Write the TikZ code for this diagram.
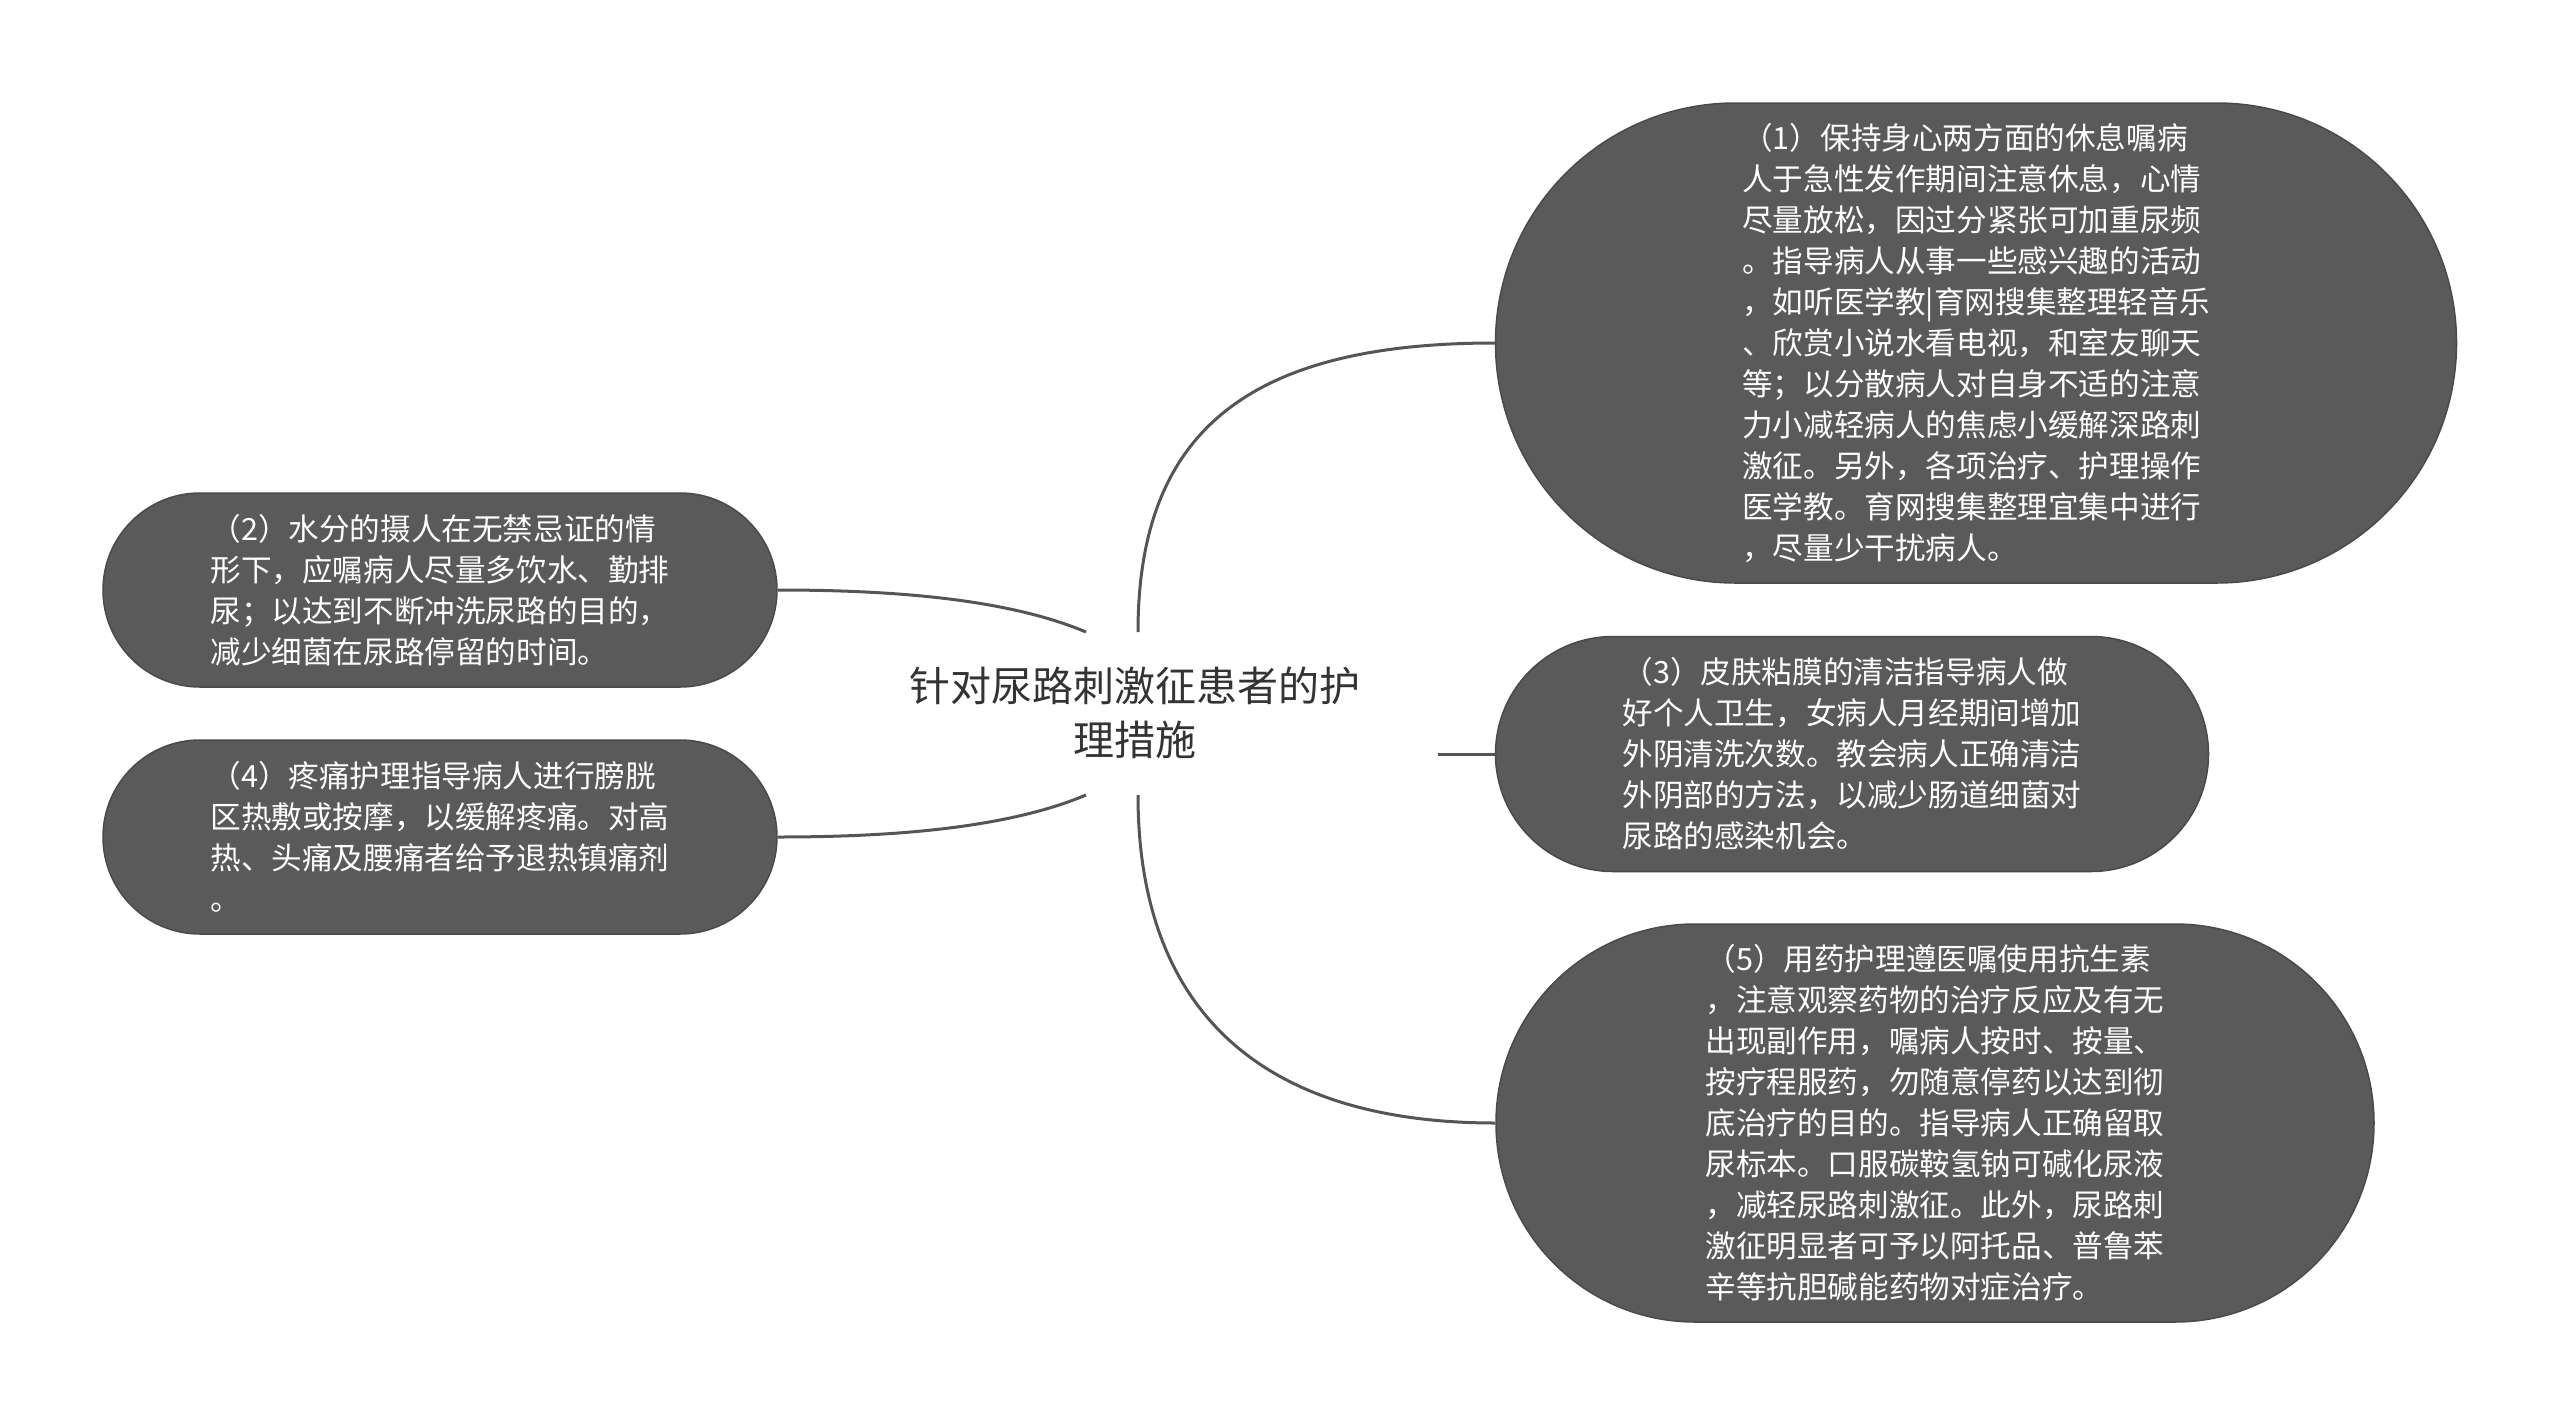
\documentclass[tikz,border=0pt]{standalone}
\usepackage{fontspec}
\setmainfont{Noto Sans CJK SC}
\usetikzlibrary{shapes.misc}
\definecolor{nodefill}{HTML}{5A5A5A}
\definecolor{nodeedge}{HTML}{4A4A4A}
\definecolor{linecol}{HTML}{555555}
\definecolor{titlecol}{HTML}{333333}
\begin{document}
\begin{tikzpicture}[x=1pt,y=-1pt,
  leaf/.style={rounded rectangle, fill=nodefill, draw=nodeedge, line width=1.5pt,
    text=white, inner sep=0pt, align=left,
    font=\fontsize{30.6}{41}\selectfont},
  conn/.style={draw=linecol, line width=3pt}
]
\useasboundingbox (0,0) rectangle (2560,1427);
\fill[white] (0,0) rectangle (2560,1427);

\node[rectangle, minimum width=607pt, minimum height=163pt, inner sep=0pt,
  align=center, text=titlecol, font=\fontsize{41}{54}\selectfont] (root) at (1135,713)
  {针对尿路刺激征患者的护\\理措施};

\node[leaf, minimum width=961pt, minimum height=480pt] (n1) at (1976,343)
{（1）保持身心两方面的休息嘱病\\
人于急性发作期间注意休息，心情\\
尽量放松，因过分紧张可加重尿频\\
。指导病人从事一些感兴趣的活动\\
，如听医学教|育网搜集整理轻音乐\\
、欣赏小说水看电视，和室友聊天\\
等；以分散病人对自身不适的注意\\
力小减轻病人的焦虑小缓解深路刺\\
激征。另外，各项治疗、护理操作\\
医学教。育网搜集整理宜集中进行\\
，尽量少干扰病人。};

\node[leaf, minimum width=674pt, minimum height=194pt] (n2) at (440,590)
{（2）水分的摄人在无禁忌证的情\\
形下，应嘱病人尽量多饮水、勤排\\
尿；以达到不断冲洗尿路的目的，\\
减少细菌在尿路停留的时间。};

\node[leaf, minimum width=674pt, minimum height=194pt] (n4) at (440,837)
{（4）疼痛护理指导病人进行膀胱\\
区热敷或按摩，以缓解疼痛。对高\\
热、头痛及腰痛者给予退热镇痛剂\\
。};

\node[leaf, minimum width=713pt, minimum height=235pt] (n3) at (1852,754)
{（3）皮肤粘膜的清洁指导病人做\\
好个人卫生，女病人月经期间增加\\
外阴清洗次数。教会病人正确清洁\\
外阴部的方法，以减少肠道细菌对\\
尿路的感染机会。};

\node[leaf, minimum width=878pt, minimum height=398pt] (n5) at (1935,1123)
{（5）用药护理遵医嘱使用抗生素\\
，注意观察药物的治疗反应及有无\\
出现副作用，嘱病人按时、按量、\\
按疗程服药，勿随意停药以达到彻\\
底治疗的目的。指导病人正确留取\\
尿标本。口服碳鞍氢钠可碱化尿液\\
，减轻尿路刺激征。此外，尿路刺\\
激征明显者可予以阿托品、普鲁苯\\
辛等抗胆碱能药物对症治疗。};

\coordinate (rTL) at (1086,632);
\coordinate (rBL) at (1086,795);
\coordinate (rTR) at (1138,632);
\coordinate (rBR) at (1138,795);
\coordinate (rR) at (1438,754);

\draw[conn] (rTL) .. controls (1010,600) and (900,590) .. (n2.east);
\draw[conn] (rBL) .. controls (1010,827) and (900,837) .. (n4.east);
\draw[conn] (rTR) .. controls (1138,430) and (1250,343) .. (n1.west);
\draw[conn] (rBR) .. controls (1138,1000) and (1250,1123) .. (n5.west);
\draw[conn] (rR) -- (n3.west |- rR);
\end{tikzpicture}
\end{document}
